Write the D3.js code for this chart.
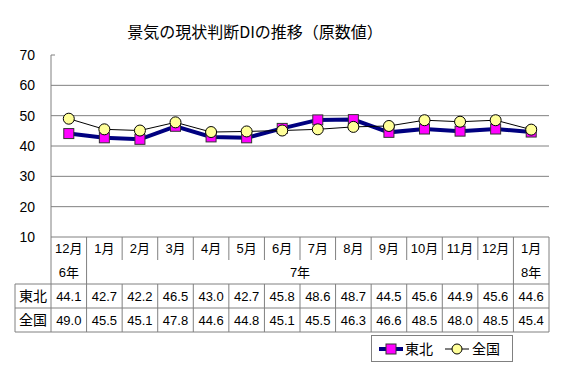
<!DOCTYPE html>
<html><head><meta charset="utf-8">
<script src="https://cdn.jsdelivr.net/npm/d3@7"></script>
<style>
body{margin:0;background:#fff;}
text{font-family:"Liberation Sans","Noto Sans CJK JP",sans-serif;fill:#000;}
</style></head>
<body><svg id="c" width="564" height="382"></svg>
<script>
const months = ["12月","1月","2月","3月","4月","5月","6月","7月","8月","9月","10月","11月","12月","1月"];
const years = [{label:"6年", from:0, to:0},{label:"7年", from:1, to:12},{label:"8年", from:13, to:13}];
const tohoku = [44.1,42.7,42.2,46.5,43.0,42.7,45.8,48.6,48.7,44.5,45.6,44.9,45.6,44.6];
const zenkoku = [49.0,45.5,45.1,47.8,44.6,44.8,45.1,45.5,46.3,46.6,48.5,48.0,48.5,45.4];
const seriesNames = ["東北","全国"];
const yTicks = [10,20,30,40,50,60,70];
const title = "景気の現状判断DIの推移（原数値）";

const svg = d3.select("#c");
const L=51, R=549, T=55, B=237;
const x = d3.scaleBand().domain(d3.range(months.length)).range([L,R]).padding(0);
const bw = x.bandwidth();
const cx = i => x(i)+bw/2;
const y = d3.scaleLinear().domain([10,70]).range([B,T]);
const grid="#808080";

svg.append("text").attr("x",255).attr("y",38).attr("text-anchor","middle")
  .style("font-family","'Noto Sans CJK JP',sans-serif").style("font-size","16px").text(title);

// gridlines
svg.append("g").selectAll("line").data(yTicks.filter(d=>d>10&&d<70)).join("line")
  .attr("x1",L).attr("x2",R).attr("y1",d=>y(d)).attr("y2",d=>y(d))
  .attr("stroke",grid).attr("stroke-width",1);
// axis
svg.append("line").attr("x1",L).attr("x2",L).attr("y1",T).attr("y2",B).attr("stroke",grid);
svg.append("line").attr("x1",L).attr("x2",L+4).attr("y1",y(70)).attr("y2",y(70)).attr("stroke",grid);
svg.append("g").selectAll("text").data(yTicks).join("text")
  .attr("x",35).attr("y",d=>y(d)+5).attr("text-anchor","end").style("font-size","14px").text(d=>d);

// table
const rows = {top:B, mid:260, r1:284, r2:308, bot:332};
const tl = svg.append("g").attr("stroke",grid).attr("stroke-width",1);
tl.append("line").attr("x1",L).attr("x2",R).attr("y1",rows.top).attr("y2",rows.top);
tl.append("line").attr("x1",15).attr("x2",R).attr("y1",rows.r1).attr("y2",rows.r1);
tl.append("line").attr("x1",15).attr("x2",R).attr("y1",rows.r2).attr("y2",rows.r2);
tl.append("line").attr("x1",15).attr("x2",R).attr("y1",rows.bot).attr("y2",rows.bot);
tl.append("line").attr("x1",15).attr("x2",15).attr("y1",rows.r1).attr("y2",rows.bot);
tl.append("line").attr("x1",L).attr("x2",L).attr("y1",rows.top).attr("y2",rows.bot);
tl.append("line").attr("x1",R).attr("x2",R).attr("y1",rows.top).attr("y2",rows.bot);
// inner column separators
d3.range(1,months.length).forEach(i=>{
  const xx = x(i);
  const full = (i===1 || i===months.length-1);
  tl.append("line").attr("x1",xx).attr("x2",xx).attr("y1",rows.top).attr("y2",full?rows.bot:rows.mid);
  if(!full) tl.append("line").attr("x1",xx).attr("x2",xx).attr("y1",rows.r1).attr("y2",rows.bot);
});
const tg = svg.append("g").style("font-size","13px").attr("text-anchor","middle");
tg.selectAll(".m").data(months).join("text").attr("class","m")
  .attr("x",(d,i)=>cx(i)).attr("y",253).text(d=>d);
tg.selectAll(".yr").data(years).join("text").attr("class","yr")
  .attr("x",d=>(x(d.from)+x(d.to)+bw)/2).attr("y",277).text(d=>d.label);
tg.selectAll(".v1").data(tohoku).join("text").attr("class","v1")
  .attr("x",(d,i)=>cx(i)).attr("y",301).text(d=>d.toFixed(1));
tg.selectAll(".v2").data(zenkoku).join("text").attr("class","v2")
  .attr("x",(d,i)=>cx(i)).attr("y",325).text(d=>d.toFixed(1));
tg.append("text").attr("x",33).attr("y",301).style("font-size","14px").text(seriesNames[0]);
tg.append("text").attr("x",33).attr("y",325).style("font-size","14px").text(seriesNames[1]);

// series
const line = d3.line().x((d,i)=>cx(i)).y(d=>y(d));
svg.append("path").datum(tohoku).attr("d",line).attr("fill","none").attr("stroke","#000080").attr("stroke-width",4);
svg.append("g").selectAll("rect").data(tohoku).join("rect")
  .attr("x",(d,i)=>cx(i)-5).attr("y",d=>y(d)-5).attr("width",10).attr("height",10)
  .attr("fill","#FF00FF").attr("stroke","#333").attr("stroke-width",1);
svg.append("path").datum(zenkoku).attr("d",line).attr("fill","none").attr("stroke","#000").attr("stroke-width",1);
svg.append("g").selectAll("circle").data(zenkoku).join("circle")
  .attr("cx",(d,i)=>cx(i)).attr("cy",d=>y(d)).attr("r",5.5)
  .attr("fill","#FFFF99").attr("stroke","#000").attr("stroke-width",1);

// legend
const lg = svg.append("g");
lg.append("rect").attr("x",371.5).attr("y",335.5).attr("width",141).attr("height",26)
  .attr("fill","#fff").attr("stroke","#808080");
lg.append("line").attr("x1",379).attr("x2",403).attr("y1",349).attr("y2",349).attr("stroke","#000080").attr("stroke-width",4);
lg.append("rect").attr("x",386).attr("y",344).attr("width",10).attr("height",10).attr("fill","#FF00FF").attr("stroke","#333");
lg.append("text").attr("x",405).attr("y",354).style("font-size","14px").style("font-family","'Noto Sans CJK JP',sans-serif").text(seriesNames[0]);
lg.append("line").attr("x1",445).attr("x2",469).attr("y1",349).attr("y2",349).attr("stroke","#000").attr("stroke-width",1);
lg.append("circle").attr("cx",457).attr("cy",349).attr("r",5).attr("fill","#FFFF99").attr("stroke","#000");
lg.append("text").attr("x",472).attr("y",354).style("font-size","14px").style("font-family","'Noto Sans CJK JP',sans-serif").text(seriesNames[1]);
</script></body></html>
